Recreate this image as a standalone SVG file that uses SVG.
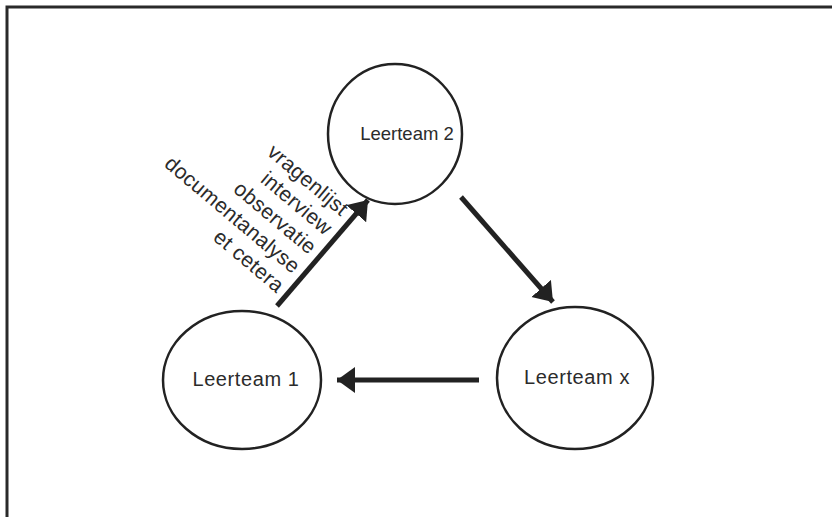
<svg xmlns="http://www.w3.org/2000/svg" width="832" height="517" viewBox="0 0 832 517">
<style>
.node ellipse{fill:#fff;stroke:#222;stroke-width:2.5}
.lbl{font-family:"Liberation Sans",Arial,sans-serif;font-size:20px;fill:#2b2b2b;letter-spacing:0.6px}
.small{font-size:18.5px;letter-spacing:0px}
.rot{font-size:21px;letter-spacing:0.3px}
.conn line{stroke:#222;stroke-width:5}
.frame{stroke:#2a2a2a;stroke-width:3;fill:none}
</style>
<defs>
<marker id="ah" markerUnits="userSpaceOnUse" markerWidth="22" markerHeight="28" refX="18" refY="13" orient="auto">
<path d="M0,0 L18,13 L0,26 Z" fill="#222"/>
</marker>
</defs>
<rect width="832" height="517" fill="#fff"/>
<path class="frame" d="M7,517 V7 H832"/>
<g id="node-leerteam2" class="node">
<ellipse cx="395" cy="134" rx="67" ry="70"/>
<text class="lbl small" x="407" y="140" text-anchor="middle">Leerteam 2</text>
</g>
<g id="node-leerteam1" class="node">
<ellipse cx="242" cy="380" rx="79" ry="69"/>
<text class="lbl" x="246" y="386" text-anchor="middle">Leerteam 1</text>
</g>
<g id="node-leerteamx" class="node">
<ellipse cx="575" cy="378" rx="78" ry="71"/>
<text class="lbl" x="577" y="384" text-anchor="middle">Leerteam x</text>
</g>
<g id="connectors" class="conn">
<line x1="277" y1="306" x2="368" y2="200" marker-end="url(#ah)"/>
<line x1="461" y1="197" x2="553" y2="302" marker-end="url(#ah)"/>
<line x1="479" y1="380" x2="337" y2="380" marker-end="url(#ah)"/>
</g>
<g id="methods-label" transform="translate(341,217) rotate(40)">
<text class="lbl rot" text-anchor="end" x="0" y="0">vragenlijst</text>
<text class="lbl rot" text-anchor="end" x="0" y="25">interview</text>
<text class="lbl rot" text-anchor="end" x="0" y="50">observatie</text>
<text class="lbl rot" text-anchor="end" x="0" y="75">documentanalyse</text>
<text class="lbl rot" text-anchor="end" x="0" y="100">et cetera</text>
</g>
</svg>
